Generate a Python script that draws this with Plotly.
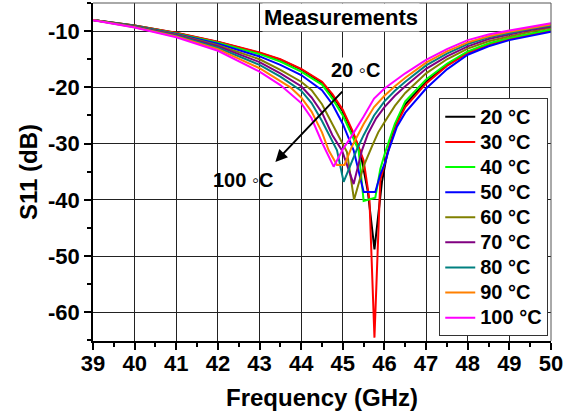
import plotly.graph_objects as go

labels = ["20 °C", "30 °C", "40 °C", "50 °C", "60 °C", "70 °C", "80 °C", "90 °C", "100 °C"]
colors = ["#000000", "#FF0000", "#00FF00", "#0000FF", "#808000", "#800080", "#008080", "#FF8000", "#FF00FF"]

f_20 = [39, 40, 41, 42, 43, 43.5, 44, 44.5, 44.75, 45.0, 45.25, 45.42, 45.6, 45.76, 45.94, 46.06, 46.25, 46.5, 47, 47.5, 48, 48.5, 49, 49.5, 50]
s_20 = [-8.0, -9.0, -10.35, -11.95, -13.9, -15.1, -16.8, -19.2, -21.5, -24.3, -28.3, -31.5, -38.5, -48.8, -36.8, -32.0, -27.0, -23.0, -19.0, -16.0, -13.8, -12.3, -11.3, -10.5, -9.8]

f_30 = [39, 40, 41, 42, 43, 43.5, 44, 44.5, 44.75, 45.0, 45.25, 45.5, 45.64, 45.76, 45.9, 46.02, 46.1, 46.3, 46.5, 47, 47.5, 48, 48.5, 49, 49.5, 50]
s_30 = [-8.0, -9.0, -10.3, -11.9, -13.8, -15.0, -16.7, -19.0, -21.2, -24.0, -28.0, -33.0, -40.0, -64.5, -36.5, -33.3, -31.0, -26.5, -23.5, -19.3, -16.2, -13.9, -12.4, -11.4, -10.6, -9.9]

f_40 = [39, 40, 41, 42, 43, 43.5, 44, 44.5, 44.75, 45.0, 45.25, 45.38, 45.5, 45.78, 45.9, 46.02, 46.25, 46.5, 47, 47.5, 48, 48.5, 49, 49.5, 50]
s_40 = [-8.0, -9.05, -10.4, -12.05, -14.1, -15.4, -17.2, -19.5, -22.0, -25.0, -29.0, -31.2, -40.2, -39.6, -34.5, -31.5, -26.5, -22.5, -18.6, -15.8, -13.6, -12.2, -11.2, -10.4, -9.7]

f_50 = [39, 40, 41, 42, 43, 43.5, 44, 44.5, 44.75, 45.0, 45.26, 45.5, 45.78, 45.9, 46.02, 46.1, 46.3, 46.5, 47, 47.5, 48, 48.5, 49, 49.5, 50]
s_50 = [-8.0, -9.1, -10.5, -12.25, -14.5, -16.0, -17.8, -20.5, -23.0, -26.5, -31.2, -38.6, -38.6, -35.5, -33.3, -31.2, -27.0, -24.5, -20.2, -16.8, -14.2, -12.7, -11.6, -10.8, -10.1]

f_60 = [39, 40, 41, 42, 43, 43.5, 44, 44.25, 44.5, 44.75, 45.0, 45.1, 45.27, 45.5, 45.7, 45.85, 46.0, 46.25, 46.5, 47, 47.5, 48, 48.5, 49, 49.5, 50]
s_60 = [-8.0, -9.15, -10.6, -12.5, -15.0, -16.9, -19.0, -20.5, -23.0, -26.5, -30.0, -31.5, -40.0, -34.0, -30.5, -28.0, -26.2, -23.3, -21.0, -17.5, -15.0, -13.1, -11.8, -10.9, -10.1, -9.4]

f_70 = [39, 40, 41, 42, 43, 43.5, 44, 44.25, 44.5, 44.75, 44.98, 45.26, 45.46, 45.6, 45.8, 46.0, 46.25, 46.5, 47, 47.5, 48, 48.5, 49, 49.5, 50]
s_70 = [-8.0, -9.2, -10.7, -12.7, -15.5, -17.5, -19.8, -21.8, -24.5, -28.5, -31.2, -37.2, -31.2, -28.3, -25.5, -23.5, -21.5, -19.8, -16.7, -14.5, -12.7, -11.4, -10.6, -9.8, -9.2]

f_80 = [39, 40, 41, 42, 43, 43.5, 44, 44.25, 44.5, 44.86, 45.02, 45.34, 45.5, 45.75, 46.0, 46.25, 46.5, 47, 47.5, 48, 48.5, 49, 49.5, 50]
s_80 = [-8.0, -9.25, -10.8, -12.95, -16.0, -18.1, -20.6, -22.8, -26.0, -31.2, -36.8, -31.0, -28.5, -25.0, -22.5, -20.6, -19.0, -16.1, -14.0, -12.3, -11.1, -10.3, -9.6, -9.0]

f_90 = [39, 40, 41, 42, 43, 43.5, 43.74, 44, 44.25, 44.5, 44.66, 44.86, 45.04, 45.22, 45.5, 45.75, 46.0, 46.25, 46.5, 47, 47.5, 48, 48.5, 49, 49.5, 50]
s_90 = [-8.0, -9.3, -10.95, -13.2, -16.6, -18.9, -20.0, -21.8, -24.3, -28.0, -31.2, -33.8, -33.8, -30.5, -26.5, -23.5, -21.5, -19.8, -18.3, -15.6, -13.6, -12.0, -10.9, -10.1, -9.4, -8.8]

f_100 = [39, 40, 41, 42, 43, 43.5, 44, 44.25, 44.5, 44.78, 45.0, 45.2, 45.5, 45.75, 46.0, 46.25, 46.5, 47, 47.5, 48, 48.5, 49, 49.5, 50]
s_100 = [-8.05, -9.35, -11.1, -13.5, -17.2, -19.6, -22.8, -25.5, -29.8, -34.1, -31.0, -28.8, -25.2, -22.0, -20.2, -18.8, -17.5, -15.1, -13.2, -11.6, -10.6, -9.9, -9.2, -8.6]

freqs = [f_20, f_30, f_40, f_50, f_60, f_70, f_80, f_90, f_100]
s11 = [s_20, s_30, s_40, s_50, s_60, s_70, s_80, s_90, s_100]

x_ticks = list(range(39, 51))
y_ticks = [-10, -20, -30, -40, -50, -60]

FONT = "Liberation Sans, Arial, sans-serif"

fig = go.Figure()
for lab, col, fx, sy in zip(labels, colors, freqs, s11):
    fig.add_trace(go.Scatter(x=fx, y=sy, mode="lines",
                             name="<span style='font-size:20px'>" + lab + "</span>",
                             line=dict(color=col, width=2)))

fig.update_layout(
    width=565, height=420,
    margin=dict(l=93, r=14, t=3, b=79),
    paper_bgcolor="white", plot_bgcolor="white",
    font=dict(family=FONT, color="black", size=20, weight="bold"),
    showlegend=True,
    legend=dict(x=0.756, y=0.718, xanchor="left", yanchor="top",
                bgcolor="white", bordercolor="#333333", borderwidth=1,
                font=dict(family=FONT, size=17, color="black", weight="bold"),
                tracegroupgap=0, itemwidth=30),
)

fig.update_xaxes(
    range=[39, 50], tickvals=x_ticks, ticktext=[str(v) for v in x_ticks],
    ticks="outside", ticklen=7, tickwidth=1.5, tickcolor="black",
    ticklabelstandoff=-5,
    showline=True, linecolor="black", linewidth=1.5,
    showgrid=True, gridcolor="#222222", gridwidth=1,
    zeroline=False,
    minor=dict(dtick=0.5, tick0=39, ticks="outside", ticklen=4, tickcolor="black", showgrid=False),
    tickfont=dict(family=FONT, size=22, color="black", weight="bold"),
    title=dict(text="Frequency (GHz)", standoff=14,
               font=dict(family=FONT, size=24, color="black", weight="bold")),
)
fig.update_yaxes(
    range=[-65.1, -5], tickvals=y_ticks, ticktext=[str(v) for v in y_ticks],
    ticks="outside", ticklen=7, tickwidth=1.5, tickcolor="black",
    showline=True, linecolor="black", linewidth=1.5,
    showgrid=True, gridcolor="#222222", gridwidth=1,
    zeroline=False,
    minor=dict(dtick=5, tick0=-5, ticks="outside", ticklen=4, tickcolor="black", showgrid=False),
    tickfont=dict(family=FONT, size=22, color="black", weight="bold"),
    title=dict(text="S11 (dB)", standoff=4,
               font=dict(family=FONT, size=24, color="black", weight="bold")),
)

# frame on top and right
fig.add_shape(type="line", xref="paper", yref="paper", x0=0, x1=1, y0=1, y1=1,
              line=dict(color="#555555", width=1))
fig.add_shape(type="line", xref="paper", yref="paper", x0=1, x1=1, y0=0, y1=1,
              line=dict(color="#555555", width=1))

fig.add_annotation(x=43.38, y=-33.26, ax=45.02, ay=-20.5, xref="x", yref="y",
                   axref="x", ayref="y", text="", showarrow=True,
                   arrowhead=2, arrowsize=1.2, arrowwidth=2, arrowcolor="black")
fig.add_annotation(x=44.96, y=-7.6, xref="x", yref="y", text="Measurements",
                   showarrow=False, bgcolor="white",
                   font=dict(family=FONT, size=22, color="black", weight="bold"))
fig.add_annotation(x=45.3, y=-17.0, xref="x", yref="y", text="20 ◦C",
                   showarrow=False, bgcolor="white",
                   font=dict(family=FONT, size=20, color="black", weight="bold"))
fig.add_annotation(x=42.6, y=-36.4, xref="x", yref="y", text="100 ◦C",
                   showarrow=False,
                   font=dict(family=FONT, size=20, color="black", weight="bold"))

fig.write_html("out.html")
